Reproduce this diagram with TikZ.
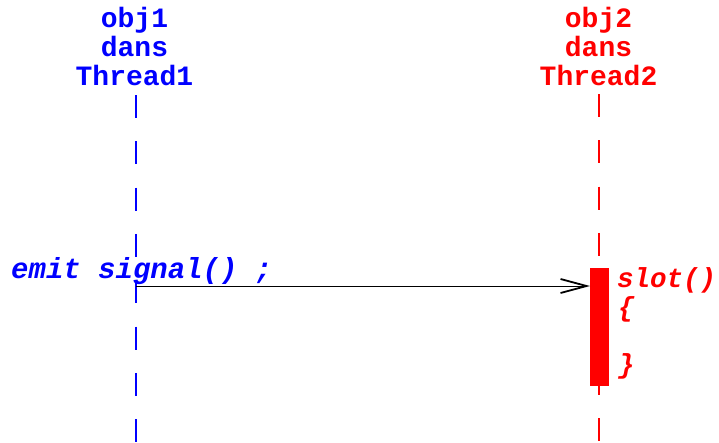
\documentclass[tikz,border=0pt]{standalone}
\usepackage{fontspec}
\setmonofont{Liberation Mono}
\usetikzlibrary{arrows.meta}
\definecolor{objblue}{RGB}{0,0,255}
\definecolor{objred}{RGB}{255,0,0}
\tikzset{
  lbl/.style={inner sep=0pt, font=\fontsize{28}{29}\selectfont\ttfamily\bfseries},
  code/.style={inner sep=0pt, font=\fontsize{29}{30}\selectfont\ttfamily\bfseries\itshape},
  slotcode/.style={inner sep=0pt, font=\fontsize{27.5}{29}\selectfont\ttfamily\bfseries\itshape},
  lifeline/.style={line width=2pt, dash pattern=on 23pt off 23.3pt},
  msg/.style={line width=0.9pt, -{Straight Barb[length=26pt,width=14pt,line width=1.8pt]}}
}
\begin{document}
\begin{tikzpicture}[x=1pt,y=-1pt]
\useasboundingbox (0,0) rectangle (719,442);
% lifelines
\coordinate (l1top) at (135.5,95);
\coordinate (l1bot) at (135.5,442);
\coordinate (l2top) at (598.5,94);
\coordinate (l2bot) at (598.5,442);
\draw[lifeline, objblue] (l1top) -- (l1bot);
\draw[lifeline, objred] (l2top) -- (l2bot);
% headers
\node[lbl, objblue, anchor=base] (h1a) at (134.5,27) {obj1};
\node[lbl, objblue, anchor=base] (h1b) at (134.5,56) {dans};
\node[lbl, objblue, anchor=base] (h1c) at (134.5,85) {Thread1};
\node[lbl, objred, anchor=base] (h2a) at (598.5,27) {obj2};
\node[lbl, objred, anchor=base] (h2b) at (598.5,56) {dans};
\node[lbl, objred, anchor=base] (h2c) at (598.5,85) {Thread2};
% activation
\node[fill=objred, inner sep=0pt, minimum width=19pt, minimum height=118pt, anchor=north west] (act) at (590,268) {};
% texts
\node[code, objblue, anchor=base west] (emit) at (11,278) {emit signal() ;};
\node[slotcode, objred, anchor=base west] (slot) at (617,287) {slot()};
\node[slotcode, objred, anchor=base west] (ob) at (618,316) {\{};
\node[slotcode, objred, anchor=base west] (cb) at (618,373) {\}};
% message
\coordinate (s1) at (135.5,286);
\draw[msg] (s1) -- (act.west |- s1);
\end{tikzpicture}
\end{document}
